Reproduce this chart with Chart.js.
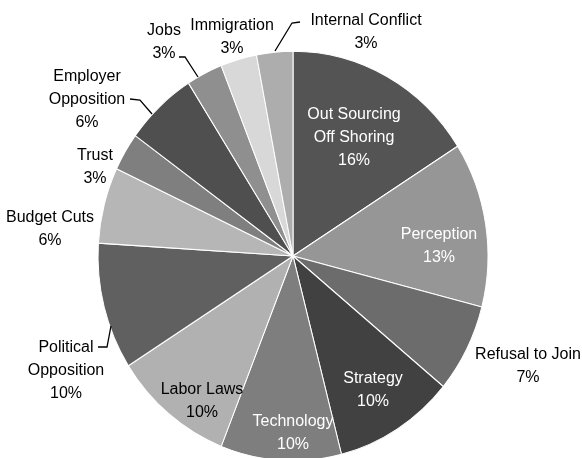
<!DOCTYPE html>
<html lang="en">
<head>
    <meta charset="UTF-8">
    <title>Reasons pie</title>
    <script src="https://cdn.jsdelivr.net/npm/chart.js"></script>
    <style>
        body {
            margin: 0;
            padding: 0;
            background: #ffffff;
            overflow: hidden;
        }
    </style>
</head>
<body>
    <canvas id="pie" width="582" height="458"></canvas>

    <script>
        const categories = ['Out Sourcing Off Shoring', 'Perception', 'Refusal to Join', 'Strategy', 'Technology',
            'Labor Laws', 'Political Opposition', 'Budget Cuts', 'Trust', 'Employer Opposition', 'Jobs',
            'Immigration', 'Internal Conflict'];
        const shares = [16, 13, 7, 10, 10, 10, 10, 6, 3, 6, 3, 3, 3];
        const sliceColors = ['#545454', '#969696', '#6c6c6c', '#414141', '#7e7e7e', '#b1b1b1', '#606060',
            '#b6b6b6', '#7f7f7f', '#4f4f4f', '#8f8f8f', '#d8d8d8', '#adadad'];

        // label text lines (percent appended from shares)
        const labelLines = [['Out Sourcing', 'Off Shoring'], ['Perception'], ['Refusal to Join'], ['Strategy'],
            ['Technology'], ['Labor Laws'], ['Political', 'Opposition'], ['Budget Cuts'], ['Trust'],
            ['Employer', 'Opposition'], ['Jobs'], ['Immigration'], ['Internal Conflict']];

        // pie is slightly taller than wide in the picture
        const STRETCH_Y = 1.05;
        // label block centres and leader lines, page pixels, placed relative to the pie centre
        const REF_CX = 293, REF_CY = 256;
        const labelSpots = [[354, 137], [439, 245], [528, 365], [373, 389], [293, 432], [202, 400],
            [66, 370], [50, 228], [95, 166], [87, 99], [164, 41], [232, 36], [366, 31]];
        const labelInk = ['#fff', '#fff', '#000', '#fff', '#fff', '#000', '#000', '#000', '#000', '#000',
            '#000', '#000', '#000'];
        const leaders = [
            [[275, 51], [292, 23], [300, 22]],
            [[179, 57], [185, 57], [198, 77]],
            [[130, 99], [140, 100], [152, 114]],
            [[98, 347], [107, 347], [111, 326]]
        ];

        const stretchPlugin = {
            id: 'stretch',
            beforeDatasetsDraw(chart) {
                const arc = chart.getDatasetMeta(0).data[0];
                const ctx = chart.ctx;
                ctx.save();
                ctx.translate(arc.x, arc.y);
                ctx.scale(1, STRETCH_Y);
                ctx.translate(-arc.x, -arc.y);
            },
            afterDatasetsDraw(chart) {
                chart.ctx.restore();
            }
        };

        const labelPlugin = {
            id: 'pieLabels',
            afterDraw(chart) {
                const ctx = chart.ctx;
                const arc = chart.getDatasetMeta(0).data[0];
                const toX = (x) => arc.x + (x - REF_CX);
                const toY = (y) => arc.y + (y - REF_CY);

                ctx.save();
                ctx.strokeStyle = '#000';
                ctx.lineWidth = 1.3;
                leaders.forEach(pts => {
                    ctx.beginPath();
                    pts.forEach((p, i) => {
                        if (i === 0) ctx.moveTo(toX(p[0]), toY(p[1]));
                        else ctx.lineTo(toX(p[0]), toY(p[1]));
                    });
                    ctx.stroke();
                });

                ctx.font = "16px 'Liberation Sans', Arial, sans-serif";
                ctx.textAlign = 'center';
                ctx.textBaseline = 'middle';
                const lh = 23;
                labelLines.forEach((lines, i) => {
                    const all = lines.concat([shares[i] + '%']);
                    const x = toX(labelSpots[i][0]);
                    const y0 = toY(labelSpots[i][1]) + 1 - (all.length - 1) * lh / 2;
                    ctx.fillStyle = labelInk[i];
                    all.forEach((t, j) => ctx.fillText(t, x, y0 + j * lh));
                });
                ctx.restore();
            }
        };

        new Chart(document.getElementById('pie'), {
            type: 'pie',
            data: {
                labels: categories,
                datasets: [{
                    data: shares,
                    backgroundColor: sliceColors,
                    borderColor: '#ffffff',
                    borderWidth: 1,
                    clip: false
                }]
            },
            options: {
                responsive: false,
                animation: false,
                radius: 195,
                layout: {
                    padding: { left: 96, right: 92, top: 54, bottom: 0 }
                },
                plugins: {
                    legend: { display: false },
                    tooltip: { enabled: false }
                }
            },
            plugins: [stretchPlugin, labelPlugin]
        });
    </script>
</body>
</html>
